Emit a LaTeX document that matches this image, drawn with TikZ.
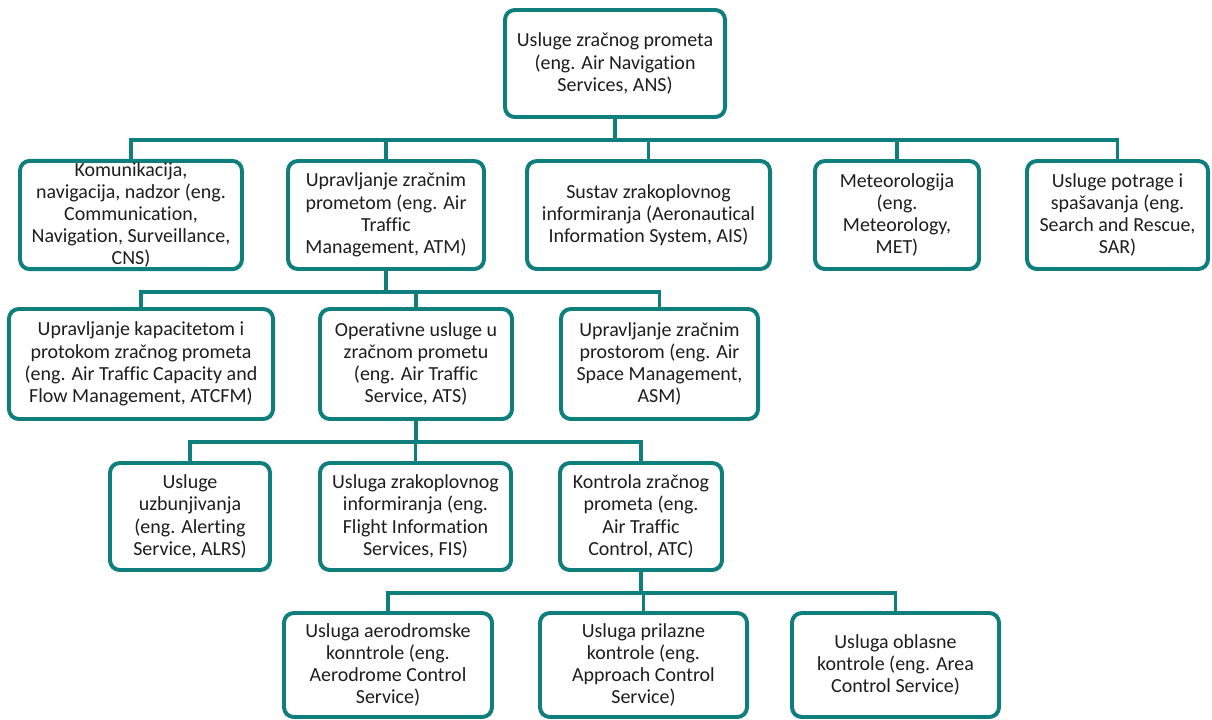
\documentclass[tikz,border=0pt]{standalone}
\usepackage{fontspec}
\setmainfont{Carlito}[Ligatures=NoCommon]
\usepackage{xcolor}
\usepackage{tikz}
\usetikzlibrary{calc}
\definecolor{tealline}{HTML}{0E7F7C}
\definecolor{boxtext}{HTML}{1E1E1E}
\tikzset{
  orgbox/.style={rectangle, draw=tealline, line width=2.8pt, rounded corners=7pt,
                 fill=white, align=center, inner sep=1pt, text=boxtext,
                 font=\fontsize{14.2}{15.8}\selectfont},
  conn/.style={draw=tealline, line width=2.6pt},
}

\begin{document}
\begin{tikzpicture}[x=0.025cm, y=-0.025cm]
  \useasboundingbox (0,0) rectangle (1212,719);
  % level 0
  \node[orgbox, minimum width=5.5cm, minimum height=2.675cm] (ans) at (615,63.5)
    {Usluge zračnog prometa\\(eng. Air Navigation\\Services, ANS)};
  % level 1
  \node[orgbox, minimum width=5.55cm, minimum height=2.7cm] (cns) at (131,215)
    {Komunikacija,\\navigacija, nadzor (eng.\\Communication,\\Navigation, Surveillance,\\CNS)};
  \node[orgbox, minimum width=4.9cm, minimum height=2.7cm] (atm) at (386,215)
    {Upravljanje zračnim\\prometom (eng. Air\\Traffic\\Management, ATM)};
  \node[orgbox, minimum width=6.075cm, minimum height=2.7cm] (ais) at (648.5,215)
    {Sustav zrakoplovnog\\informiranja (Aeronautical\\Information System, AIS)};
  \node[orgbox, minimum width=4.1cm, minimum height=2.7cm] (met) at (897,215)
    {Meteorologija\\(eng.\\Meteorology,\\MET)};
  \node[orgbox, minimum width=4.525cm, minimum height=2.7cm] (sar) at (1117.5,215)
    {Usluge potrage i\\spašavanja (eng.\\Search and Rescue,\\SAR)};
  % level 2
  \node[orgbox, minimum width=6.6cm, minimum height=2.75cm] (atcfm) at (141,364)
    {Upravljanje kapacitetom i\\protokom zračnog prometa\\(eng. Air Traffic Capacity and\\Flow Management, ATCFM)};
  \node[orgbox, minimum width=4.8cm, minimum height=2.75cm] (ats) at (416,364)
    {Operativne usluge u\\zračnom prometu\\(eng. Air Traffic\\Service, ATS)};
  \node[orgbox, minimum width=4.925cm, minimum height=2.75cm] (asm) at (659.5,364)
    {Upravljanje zračnim\\prostorom (eng. Air\\Space Management,\\ASM)};
  % level 3
  \node[orgbox, minimum width=4cm, minimum height=2.675cm] (alrs) at (190,516.5)
    {Usluge\\uzbunjivanja\\(eng. Alerting\\Service, ALRS)};
  \node[orgbox, minimum width=4.775cm, minimum height=2.675cm] (fis) at (415.5,516.5)
    {Usluga zrakoplovnog\\informiranja (eng.\\Flight Information\\Services, FIS)};
  \node[orgbox, minimum width=4.05cm, minimum height=2.675cm] (atc) at (641,516.5)
    {Kontrola zračnog\\prometa (eng.\\Air Traffic\\Control, ATC)};
  % level 4
  \node[orgbox, minimum width=5.2cm, minimum height=2.6cm] (adc) at (388,665)
    {Usluga aerodromske\\konntrole (eng.\\Aerodrome Control\\Service)};
  \node[orgbox, minimum width=5.175cm, minimum height=2.6cm] (app) at (643.5,665)
    {Usluga prilazne\\kontrole (eng.\\Approach Control\\Service)};
  \node[orgbox, minimum width=5.175cm, minimum height=2.6cm] (acc) at (895.5,665)
    {Usluga oblasne\\kontrole (eng. Area\\Control Service)};

  % bus lines
  \coordinate (bus1) at (0,140);
  \coordinate (bus2) at (0,292);
  \coordinate (bus3) at (0,442);
  \coordinate (bus4) at (0,593);
  \foreach \kid in {cns,atm,ais,met,sar}
    \draw[conn] (ans.south) -- (ans.south |- bus1) -| (\kid.north);
  \foreach \kid in {atcfm,ats,asm}
    \draw[conn] (atm.south) -- (atm.south |- bus2) -| (\kid.north);
  \foreach \kid in {alrs,fis,atc}
    \draw[conn] (ats.south) -- (ats.south |- bus3) -| (\kid.north);
  \foreach \kid in {adc,app,acc}
    \draw[conn] (atc.south) -- (atc.south |- bus4) -| (\kid.north);
\end{tikzpicture}
\end{document}
